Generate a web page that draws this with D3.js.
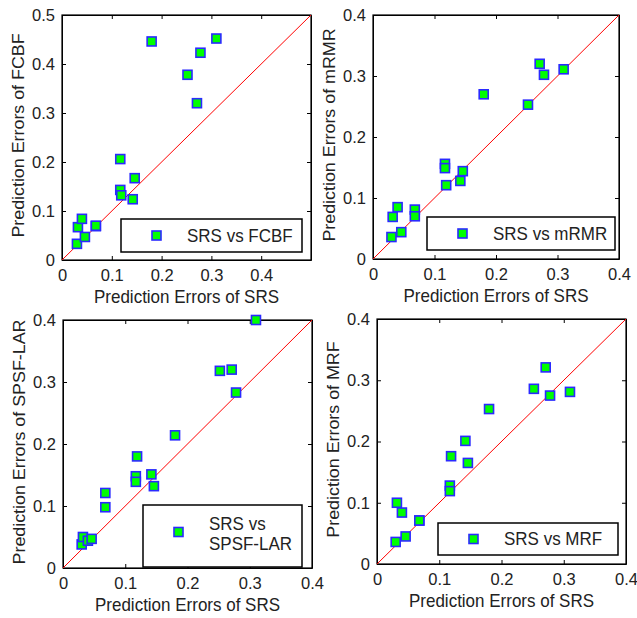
<!DOCTYPE html>
<html>
<head>
<meta charset="utf-8">
<script src="https://cdn.jsdelivr.net/npm/d3@7"></script>
<style>
  body { margin: 0; background: #fff; }
  text { font-family: "Liberation Sans", Arial, sans-serif; fill: #222; }
</style>
</head>
<body>
<svg id="chart" width="637" height="618"></svg>
<script>
// prediction errors of SRS (x axis, shared by all four panels)
var srs     = [0.030, 0.032, 0.040, 0.046, 0.068, 0.068, 0.117, 0.117, 0.119, 0.142, 0.146, 0.180, 0.252, 0.271, 0.278, 0.310];
var fcbf    = [0.033, 0.067, 0.084, 0.047, 0.069, 0.070, 0.206, 0.143, 0.132, 0.124, 0.167, 0.446, 0.378, 0.320, 0.423, 0.452];
var mrmr    = [0.036, 0.069, 0.085, 0.044, 0.081, 0.070, 0.156, 0.149, 0.121, 0.128, 0.144, 0.270, 0.253, 0.320, 0.302, 0.311];
var spsfLar = [0.038, 0.050, 0.044, 0.047, 0.121, 0.098, 0.148, 0.139, 0.180, 0.151, 0.132, 0.214, 0.318, 0.320, 0.283, 0.400];
var mrf     = [0.036, 0.100, 0.084, 0.045, 0.071, 0.071, 0.128, 0.119, 0.176, 0.201, 0.165, 0.253, 0.286, 0.321, 0.275, 0.281];

var ticks4 = [0, 0.1, 0.2, 0.3, 0.4];
var ticks5 = [0, 0.1, 0.2, 0.3, 0.4, 0.5];

var panels = [
  {name: "FCBF", y: fcbf, max: 0.5, xt: ticks4, yt: ticks5,
   box: [62, 15, 249, 245], legend: [121, 219, 181, 33], legendText: ["SRS vs FCBF"]},
  {name: "mRMR", y: mrmr, max: 0.4, xt: ticks4, yt: ticks4,
   box: [373, 15, 246, 244], legend: [427, 217, 188, 33], legendText: ["SRS vs mRMR"]},
  {name: "SPSF-LAR", y: spsfLar, max: 0.4, xt: ticks4, yt: ticks4,
   box: [63, 320, 249, 248], legend: [143, 505, 159, 62], legendText: ["SRS vs", "SPSF-LAR"]},
  {name: "MRF", y: mrf, max: 0.4, xt: ticks4, yt: ticks4,
   box: [377, 319, 249, 245], legend: [438, 523, 180, 32], legendText: ["SRS vs MRF"]}
];

var svg = d3.select("#chart");
var fmt = function(d) { return d === 0 ? "0" : d3.format(".1f")(d); };

function marker(sel) {
  sel.attr("width", 9).attr("height", 9)
    .attr("fill", "#00ff00").attr("stroke", "#2a2aff").attr("stroke-width", 1.6);
}

panels.forEach(function(p) {
  var L = p.box[0], T = p.box[1], W = p.box[2], H = p.box[3];
  var x = d3.scaleLinear().domain([0, p.max]).range([0, W]);
  var y = d3.scaleLinear().domain([0, p.max]).range([H, 0]);

  var g = svg.append("g").attr("transform", "translate(" + L + "," + T + ")");

  g.append("rect").attr("width", W).attr("height", H)
    .attr("fill", "#fff").attr("stroke", "#000").attr("stroke-width", 1.2);

  g.append("g").attr("transform", "translate(0," + H + ")")
    .call(d3.axisBottom(x).tickValues(p.xt).tickSize(-4).tickSizeOuter(0).tickPadding(9).tickFormat(fmt));
  g.append("g")
    .call(d3.axisLeft(y).tickValues(p.yt).tickSize(-4).tickSizeOuter(0).tickPadding(7).tickFormat(fmt));
  g.append("g").call(d3.axisTop(x).tickValues(p.xt).tickSize(-4).tickSizeOuter(0).tickFormat(""));
  g.append("g").attr("transform", "translate(" + W + ",0)")
    .call(d3.axisRight(y).tickValues(p.yt).tickSize(-4).tickSizeOuter(0).tickFormat(""));

  g.selectAll(".tick text").style("font-size", "16.5px").style("fill", "#222");
  g.selectAll(".domain").attr("stroke", "#000");
  g.selectAll(".tick line").attr("stroke", "#000");

  // diagonal y = x
  g.append("line")
    .attr("x1", x(0)).attr("y1", y(0))
    .attr("x2", x(p.max)).attr("y2", y(p.max))
    .attr("stroke", "#ff0000").attr("stroke-width", 1);

  var pts = srs.map(function(v, i) { return [v, p.y[i]]; });
  g.selectAll("rect.pt").data(pts).enter().append("rect")
    .attr("class", "pt")
    .attr("x", function(d) { return x(d[0]) - 4.5; })
    .attr("y", function(d) { return y(d[1]) - 4.5; })
    .call(marker);

  // axis labels (source figure is slightly stretched vertically)
  g.append("text")
    .attr("transform", "translate(" + (W / 2) + "," + (H + 43) + ") scale(1,1.1)")
    .attr("text-anchor", "middle").style("font-size", "17px")
    .text("Prediction Errors of SRS");
  g.append("text")
    .attr("transform", "translate(-38," + (H / 2 - 2) + ") rotate(-90) scale(1.05,1)")
    .attr("text-anchor", "middle").style("font-size", "17px")
    .text("Prediction Errors of " + p.name);

  // legend
  var n = p.legendText.length;
  var lg = svg.append("g").attr("transform", "translate(" + p.legend[0] + "," + p.legend[1] + ")");
  lg.append("rect").attr("width", p.legend[2]).attr("height", p.legend[3])
    .attr("fill", "#fff").attr("stroke", "#000").attr("stroke-width", 1.5);
  lg.append("rect")
    .attr("x", 31).attr("y", p.legend[3] / 2 - 4.5 - (n > 1 ? 4 : 0))
    .call(marker);
  p.legendText.forEach(function(t, i) {
    lg.append("text")
      .attr("transform", "translate(66," + (p.legend[3] / 2 + 6 - (n > 1 ? 2 : 0) + (i - (n - 1) / 2) * 20) + ") scale(1,1.12)")
      .style("font-size", "17px")
      .text(t);
  });
});
</script>
</body>
</html>
